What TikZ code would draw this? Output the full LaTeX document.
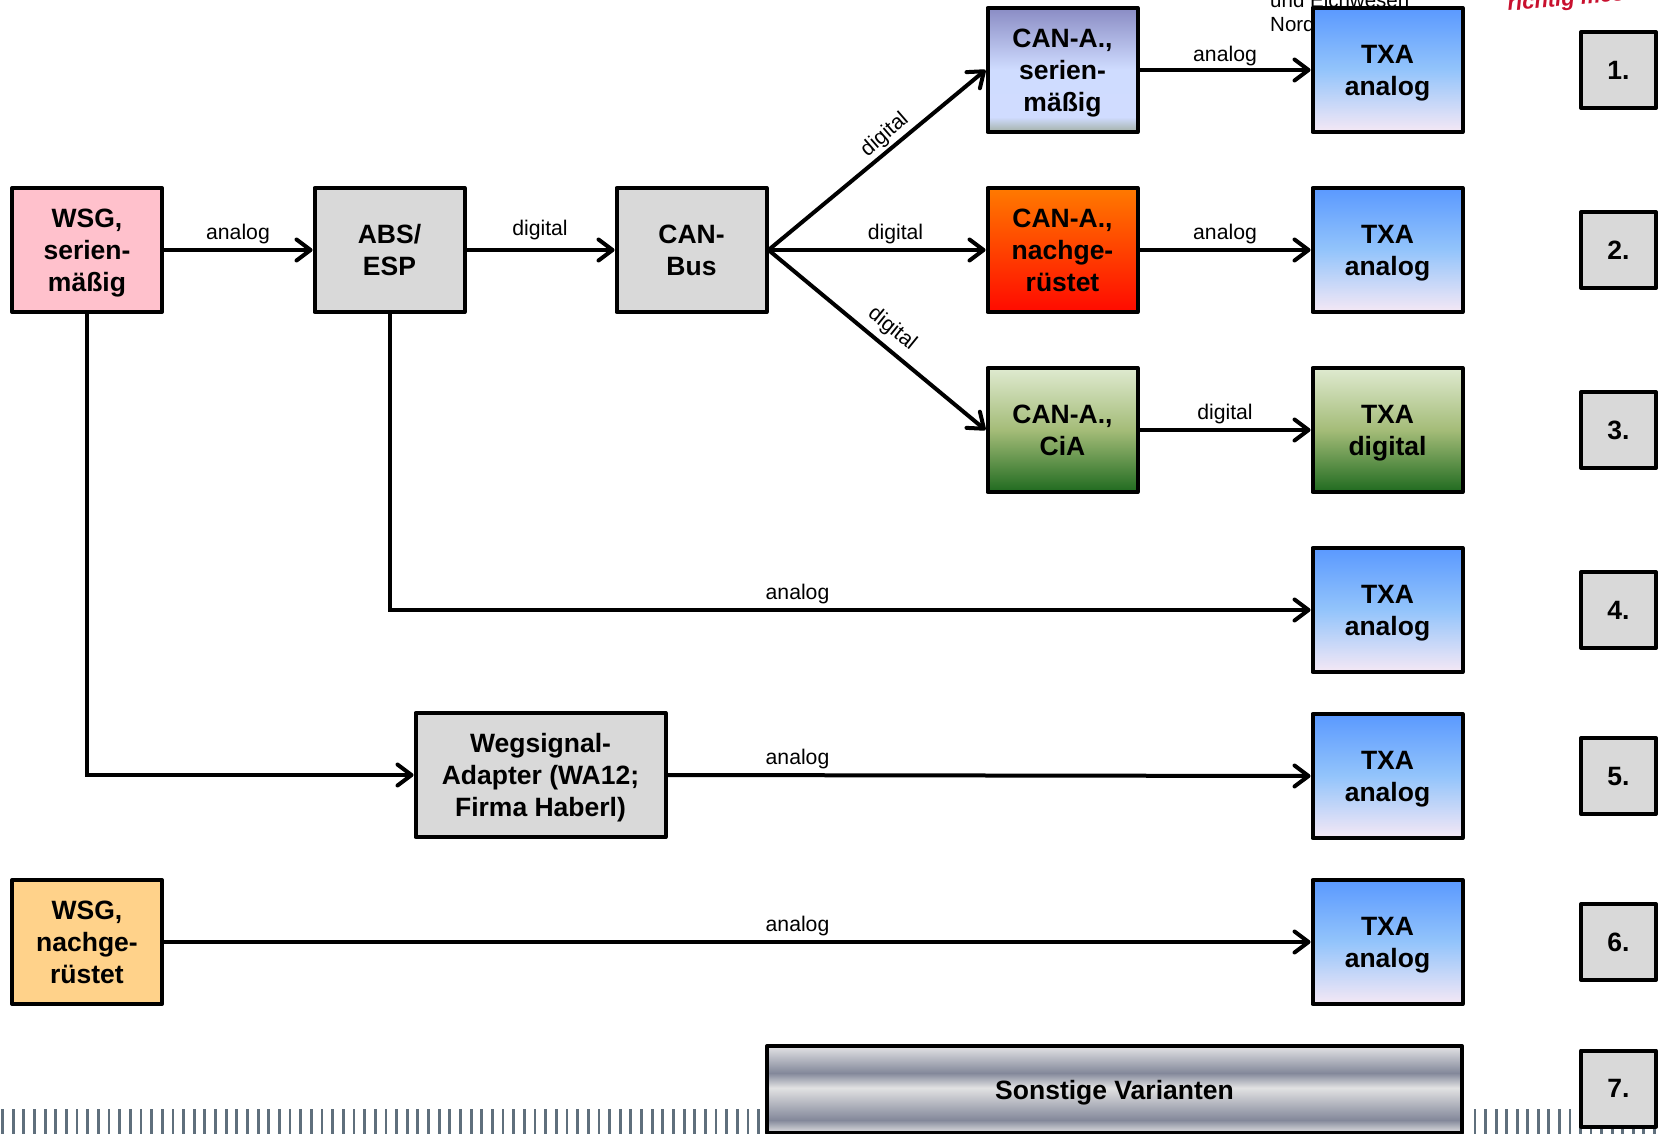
\documentclass[tikz,border=0pt]{standalone}
\usepackage{fontspec}
\setmainfont{Liberation Sans}
\usetikzlibrary{arrows.meta}
\definecolor{txaA}{HTML}{5A99FF}\definecolor{txaB}{HTML}{93C4FB}\definecolor{txaC}{HTML}{F5E8F5}
\definecolor{c1A}{HTML}{8A8CC4}\definecolor{c1B}{HTML}{CFDCFF}\definecolor{c1C}{HTML}{D0DCFF}\definecolor{c1D}{HTML}{A3B0A6}
\definecolor{c2A}{HTML}{FF7A00}\definecolor{c2B}{HTML}{FF0A00}
\definecolor{c3A}{HTML}{DFEAD0}\definecolor{c3B}{HTML}{A4BC78}\definecolor{c3C}{HTML}{1F6A1F}
\definecolor{stL}{HTML}{E2E2E3}\definecolor{stD}{HTML}{83889A}\definecolor{stT}{HTML}{E4E4E6}
\definecolor{boxgray}{HTML}{D9D9D9}\definecolor{wsgpink}{HTML}{FFC1CC}\definecolor{wsgorange}{HTML}{FFD28A}
\definecolor{stripe}{HTML}{5F6F7C}\definecolor{logored}{HTML}{C8102E}
\pgfdeclareverticalshading{txashade}{100bp}{color(0bp)=(txaC);color(25bp)=(txaC);color(50bp)=(txaB);color(75bp)=(txaA);color(100bp)=(txaA)}
\pgfdeclareverticalshading{canoneshade}{100bp}{color(0bp)=(c1D);color(25bp)=(c1D);color(31bp)=(c1C);color(50bp)=(c1B);color(75bp)=(c1A);color(100bp)=(c1A)}
\pgfdeclareverticalshading{cantwoshade}{100bp}{color(0bp)=(c2B);color(25bp)=(c2B);color(75bp)=(c2A);color(100bp)=(c2A)}
\pgfdeclareverticalshading{canthreeshade}{100bp}{color(0bp)=(c3C);color(25bp)=(c3C);color(50bp)=(c3B);color(75bp)=(c3A);color(100bp)=(c3A)}
\pgfdeclareverticalshading{steelshade}{100bp}{color(0bp)=(stL);color(25bp)=(stL);color(32.5bp)=(stD);color(51bp)=(stL);color(59.5bp)=(stD);color(75bp)=(stT);color(100bp)=(stT)}
\tikzset{
  block/.style={draw=black,line width=4pt,line join=round,inner sep=0pt,align=center,text depth=-2.5pt,
    minimum width=150pt,minimum height=124pt,font=\fontsize{26.5}{32}\selectfont\bfseries},
  plain/.style={block,fill=boxgray},
  txabox/.style={block,shade,shading=txashade},
  numbox/.style={block,fill=boxgray,minimum width=75pt,minimum height=76pt},
  lab/.style={anchor=base,inner sep=0pt,font=\fontsize{21.2}{24}\selectfont},
  conn/.style={draw=black,line width=4pt,-{Straight Barb[length=14pt,width=21pt,line width=4pt,round]}},
  stripebar/.style={draw=stripe,line width=2.8pt},
}
\begin{document}
\begin{tikzpicture}[x=1pt,y=-1pt]
\useasboundingbox (0,0) rectangle (1663,1134);
\clip (0,0) rectangle (1663,1134);
% footer stripes
\foreach \k in {0,...,71}{\draw[stripebar] ({2.5+10.65*\k},1109) -- ({2.5+10.65*\k},1134);}
\foreach \k in {0,...,17}{\draw[stripebar] ({1475+10.55*\k},1109) -- ({1475+10.55*\k},1134);}
% cut-off header text
\node[anchor=base west,inner sep=0pt,font=\fontsize{20.5}{24}\selectfont] (hdrA) at (1270,8) {und Eichwesen};
\node[anchor=base west,inner sep=0pt,font=\fontsize{20.5}{24}\selectfont] (hdrB) at (1270,31.5) {Nord};
\node[anchor=base west,inner sep=0pt,rotate=5,text=logored,font=\fontsize{22}{24}\selectfont\bfseries\itshape] (logo) at (1508,11) {richtig messen};
% blocks
\node[block,fill=wsgpink] (wsg) at (87,250) {WSG,\\serien-\\mäßig};
\node[plain] (abs) at (389.5,250) {ABS/\\ESP};
\node[plain] (bus) at (691.5,250) {CAN-\\Bus};
\node[block,shade,shading=canoneshade] (canA) at (1062.5,70) {CAN-A.,\\serien-\\mäßig};
\node[block,shade,shading=cantwoshade] (canB) at (1062.5,250) {CAN-A.,\\nachge-\\rüstet};
\node[block,shade,shading=canthreeshade] (canC) at (1062.5,430) {CAN-A.,\\CiA};
\node[txabox] (txaA) at (1387.5,70) {TXA\\analog};
\node[txabox] (txaB) at (1387.5,250) {TXA\\analog};
\node[block,shade,shading=canthreeshade] (txaC) at (1387.5,430) {TXA\\digital};
\node[txabox] (txaD) at (1387.5,610) {TXA\\analog};
\node[txabox] (txaE) at (1387.5,776) {TXA\\analog};
\node[txabox] (txaF) at (1387.5,942) {TXA\\analog};
\node[plain,minimum width=250pt] (weg) at (540.5,775) {Wegsignal-\\Adapter (WA12;\\Firma Haberl)};
\node[block,fill=wsgorange] (wsgB) at (87,942) {WSG,\\nachge-\\rüstet};
\node[block,shade,shading=steelshade,minimum width=695pt,minimum height=87pt] (sonst) at (1114.5,1089.5) {Sonstige Varianten};
% numbers
\node[numbox] (n1) at (1618.5,70) {1.};
\node[numbox] (n2) at (1618.5,250) {2.};
\node[numbox] (n3) at (1618.5,430) {3.};
\node[numbox] (n4) at (1618.5,610) {4.};
\node[numbox] (n5) at (1618.5,776) {5.};
\node[numbox] (n6) at (1618.5,942) {6.};
\node[numbox] (n7) at (1618.5,1088.5) {7.};
% connectors
\draw[conn] (wsg.east) -- (abs.west);
\draw[conn] (abs.east) -- (bus.west);
\draw[conn] (bus.east) -- (canA.west);
\draw[conn] (bus.east) -- (canB.west);
\draw[conn] (bus.east) -- (canC.west);
\draw[conn] (canA.east) -- (txaA.west);
\draw[conn] (canB.east) -- (txaB.west);
\draw[conn] (canC.east) -- (txaC.west);
\draw[conn] (abs.south) |- (txaD.west);
\draw[conn] (wsg.south) |- (weg.west);
\draw[conn] (weg.east) -- (txaE.west);
\draw[conn] (wsgB.east) -- (txaF.west);
% labels
\node[lab] (l1) at (238,240) {analog};
\node[lab] (l2) at (540,236) {digital};
\node[lab,anchor=center,rotate=41] (l3) at (885,135) {digital};
\node[lab] (l4) at (895.5,240) {digital};
\node[lab,anchor=center,rotate=-39] (l5) at (892,329) {digital};
\node[lab] (l6) at (1225,62) {analog};
\node[lab] (l7) at (1225,240) {analog};
\node[lab] (l8) at (1225,419) {digital};
\node[lab] (l9) at (797.5,599) {analog};
\node[lab] (l10) at (797.5,764) {analog};
\node[lab] (l11) at (797.5,931) {analog};
\end{tikzpicture}
\end{document}
